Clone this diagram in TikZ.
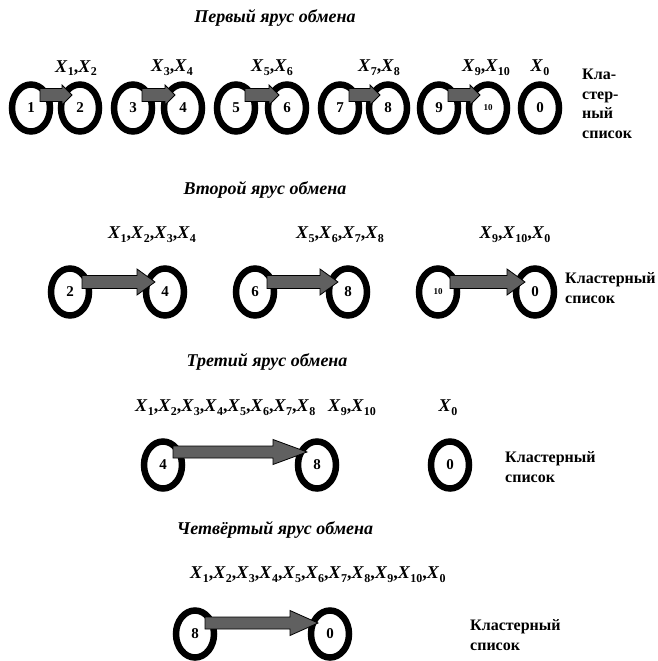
\documentclass[tikz,border=0pt]{standalone}
\usepackage{fontspec}
\setmainfont{Liberation Serif}
\usetikzlibrary{shapes.geometric,calc}
\definecolor{arrgray}{HTML}{606060}
\newcommand\xv[1]{\textit{X}\kern0.2pt\raisebox{-0.45ex}{\fontsize{12}{12}\selectfont #1}}
\newcommand\fatarrow[5]{%
  \draw[farr] let \p1=(#1), \p2=(#2) in
  (\x1,\y1+#3) -- (\x2-#5,\y1+#3) -- (\x2-#5,\y1+#4) -- (\x2,\y1)
  -- (\x2-#5,\y1-#4) -- (\x2-#5,\y1-#3) -- (\x1,\y1-#3) -- cycle;}
\tikzset{
  cl/.style={ellipse, draw, line width=6.5pt, minimum width=38pt, minimum height=47pt,
    inner sep=0pt, font=\fontsize{15}{16}\selectfont\bfseries},
  ttl/.style={font=\fontsize{18}{20}\selectfont\bfseries\itshape, inner sep=0pt},
  xl/.style={font=\fontsize{18}{20}\selectfont\bfseries, inner sep=0pt},
  cls/.style={font=\fontsize{16}{19.5}\selectfont\bfseries, align=left, anchor=west, inner sep=0pt},
  farr/.style={draw=black, line width=0.8pt, fill=arrgray, line join=miter},
}
\begin{document}
\begin{tikzpicture}[x=1pt,y=-1pt]
\useasboundingbox (0,0) rectangle (658,661);
% titles
\node[ttl] (t1) at (275,18) {Первый ярус обмена};
\node[ttl] (t2) at (265,190) {Второй ярус обмена};
\node[ttl] (t3) at (267,362) {Третий ярус обмена};
\node[ttl] (t4) at (275,530) {Четвёртый ярус обмена};
% row 1
\node[cl] (n1) at (31,108) {1};
\node[cl] (n2) at (80,108) {2};
\node[cl] (n3) at (133,108) {3};
\node[cl] (n4) at (183,108) {4};
\node[cl] (n5) at (236,108) {5};
\node[cl] (n6) at (287,108) {6};
\node[cl] (n7) at (340,108) {7};
\node[cl] (n8) at (388,108) {8};
\node[cl] (n9) at (439,108) {9};
\node[cl, font=\fontsize{9}{10}\selectfont\bfseries] (n10) at (488,108) {10};
\node[cl] (n0) at (540,108) {0};
\foreach \a/\b in {1/2,3/4,5/6,7/8,9/10}{
  \coordinate (s\a) at ($(n\a)+(9,-13)$);
  \coordinate (e\a) at ($(n\b)+(-8,-13)$);
  \fatarrow{s\a}{e\a}{6.5pt}{10pt}{10pt}
}
\node[xl] (x12) at (76,68) {\xv{1},\xv{2}};
\node[xl] (x34) at (172,68) {\xv{3},\xv{4}};
\node[xl] (x56) at (272,68) {\xv{5},\xv{6}};
\node[xl] (x78) at (379,68) {\xv{7},\xv{8}};
\node[xl] (x910) at (486,68) {\xv{9},\xv{10}};
\node[xl] (x0a) at (540,68) {\xv{0}};
\node[cls] (c1) at (582,104) {Кла-\\стер-\\ный\\список};
% row 2
\node[cl] (m2) at (70,292) {2};
\node[cl] (m4) at (165,292) {4};
\node[cl] (m6) at (255,292) {6};
\node[cl] (m8) at (348,292) {8};
\node[cl, font=\fontsize{9}{10}\selectfont\bfseries] (m10) at (438,292) {10};
\node[cl] (m0) at (535,292) {0};
\foreach \a/\b in {2/4,6/8,10/0}{
  \coordinate (p\a) at ($(m\a)+(12,-10)$);
  \coordinate (q\a) at ($(m\b)+(-10,-10)$);
  \fatarrow{p\a}{q\a}{6.5pt}{13pt}{18pt}
}
\node[xl] (y14) at (152,235) {\xv{1},\xv{2},\xv{3},\xv{4}};
\node[xl] (y58) at (340,235) {\xv{5},\xv{6},\xv{7},\xv{8}};
\node[xl] (y90) at (515,235) {\xv{9},\xv{10},\xv{0}};
\node[cls] (c2) at (565,288) {Кластерный\\список};
% row 3
\node[cl] (k4) at (163,465) {4};
\node[cl] (k8) at (317,465) {8};
\node[cl] (k0) at (450,465) {0};
\coordinate (ks) at ($(k4)+(10,-13)$);
\coordinate (ke) at ($(k8)+(-10,-13)$);
\fatarrow{ks}{ke}{6pt}{12.5pt}{34pt}
\node[xl, anchor=west] (z18) at (135,408) {\xv{1},\xv{2},\xv{3},\xv{4},\xv{5},\xv{6},\xv{7},\xv{8}};
\node[xl, anchor=west] (z910) at (328,408) {\xv{9},\xv{10}};
\node[xl] (z0) at (448,408) {\xv{0}};
\node[cls] (c3) at (505,467) {Кластерный\\список};
% row 4
\node[cl] (r8) at (195,634) {8};
\node[cl] (r0) at (330,634) {0};
\coordinate (rs) at ($(r8)+(10,-11)$);
\coordinate (re) at ($(r0)+(-12,-11)$);
\fatarrow{rs}{re}{6pt}{12.5pt}{28pt}
\node[xl, anchor=west] (w) at (190,575) {\xv{1},\xv{2},\xv{3},\xv{4},\xv{5},\xv{6},\xv{7},\xv{8},\xv{9},\xv{10},\xv{0}};
\node[cls] (c4) at (470,635) {Кластерный\\список};
\end{tikzpicture}
\end{document}
